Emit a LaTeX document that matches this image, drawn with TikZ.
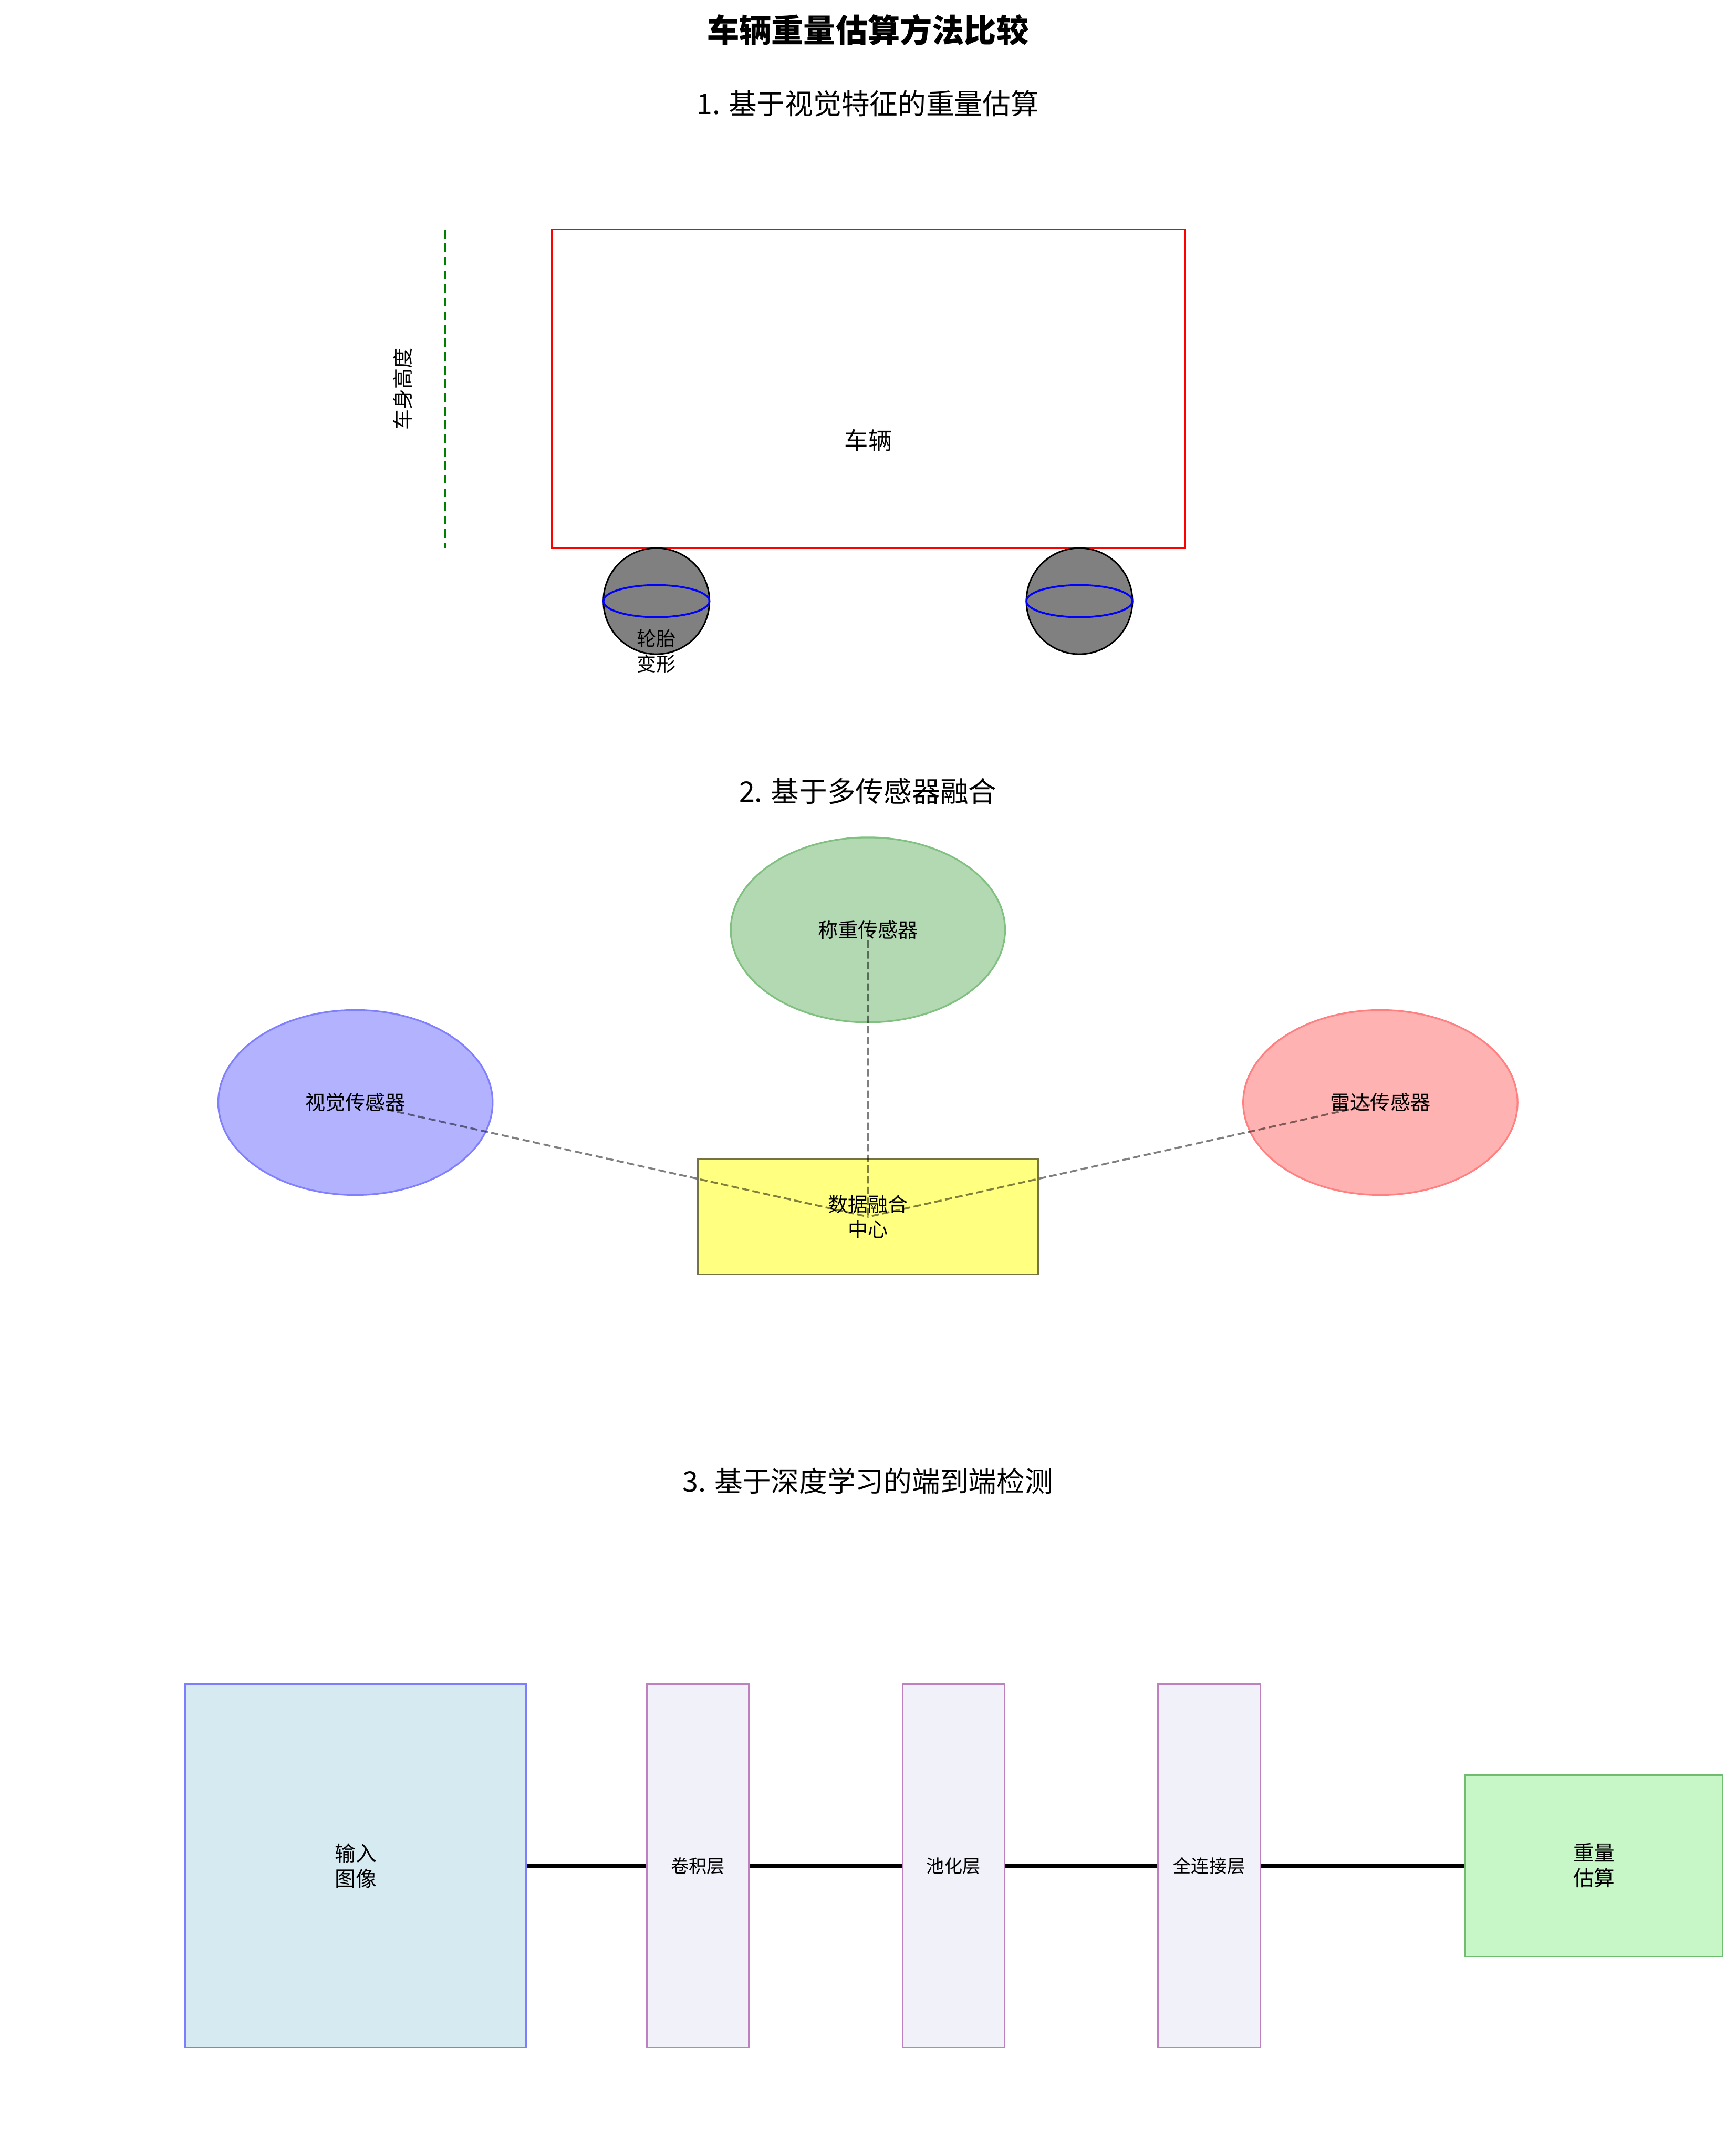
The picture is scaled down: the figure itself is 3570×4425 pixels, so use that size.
\documentclass[tikz,border=0pt]{standalone}
\usepackage{fontspec}
\setmainfont{Noto Sans CJK SC}
\usetikzlibrary{shapes.geometric}
\definecolor{fusfill}{RGB}{255,255,128}
\definecolor{fusdraw}{RGB}{115,115,70}
\definecolor{inpfill}{RGB}{213,234,241}
\definecolor{inpdraw}{RGB}{125,125,255}
\definecolor{layfill}{RGB}{241,241,250}
\definecolor{laydraw}{RGB}{191,128,191}
\definecolor{outfill}{RGB}{199,246,199}
\definecolor{outdraw}{RGB}{112,188,112}
\definecolor{wsfill}{RGB}{179,217,179}
\definecolor{wsdraw}{RGB}{128,192,128}
\definecolor{hgreen}{RGB}{0,128,0}
\newcommand\fsz[2]{\fontsize{#1}{#2}\selectfont}
\begin{document}
\begin{tikzpicture}[x=0.01cm,y=-0.01cm,
  txt/.style={inner sep=0pt, align=center},
  wheel/.style={circle, draw=black, fill=gray, line width=0.9pt, minimum size=2.18cm, inner sep=0pt},
  sensor/.style={ellipse, minimum width=5.64cm, minimum height=3.8cm, inner sep=0pt, line width=1pt},
  conn/.style={draw=black, draw opacity=0.5, line width=1.1pt, dash pattern=on 0.15cm off 0.07cm},
  layer/.style={rectangle, draw=laydraw, fill=layfill, line width=0.9pt, minimum width=2.1cm, minimum height=7.47cm, inner sep=0pt, align=center, font=\fsz{10.5pt}{13pt}},
  flow/.style={draw=black, line width=2.2pt}
]
\useasboundingbox (0,0) rectangle (3570,4425);

% titles
\node[txt, font=\fsz{18.8pt}{22pt}\bfseries] (title) at (1785,61) {车辆重量估算方法比较};
\node[txt, font=\fsz{16.5pt}{20pt}] (s1) at (1785,213) {1. 基于视觉特征的重量估算};
\node[txt, font=\fsz{16.5pt}{20pt}] (s2) at (1785,1627) {2. 基于多传感器融合};
\node[txt, font=\fsz{16.5pt}{20pt}] (s3) at (1785,3045) {3. 基于深度学习的端到端检测};

% section 1
\node[rectangle, draw=red, line width=1pt, minimum width=13.02cm, minimum height=6.55cm, inner sep=0pt] (veh) at (1786,799.5) {};
\node[txt, font=\fsz{13.9pt}{17pt}] (vehlab) at (1786,905) {车辆};
\coordinate (h1) at (915,472);
\coordinate (h2) at (915,1127);
\draw[draw=hgreen, line width=1pt, dash pattern=on 0.18cm off 0.1cm] (h1) -- (h2);
\node[txt, rotate=90, font=\fsz{12pt}{14pt}] (hlab) at (828,800) {车身高度};
\node[wheel] (w1) at (1350,1236) {};
\node[wheel] (w2) at (2220,1236) {};
\draw[blue, line width=1.1pt] (w1.center) ellipse [x radius=109, y radius=33];
\draw[blue, line width=1.1pt] (w2.center) ellipse [x radius=109, y radius=33];
\node[txt, font=\fsz{11.4pt}{14.5pt}] (tyre) at (1350,1339) {轮胎\\变形};

% section 2
\node[sensor, fill=wsfill, draw=wsdraw] (ws) at (1785,1912) {};
\node[sensor, fill=blue!30, draw=blue!50] (vs) at (731,2267) {};
\node[sensor, fill=red!30, draw=red!50] (rs) at (2839,2267) {};
\node[rectangle, fill=fusfill, draw=fusdraw, line width=1pt, minimum width=6.99cm, minimum height=2.37cm, inner sep=0pt] (fc) at (1785.5,2502) {};
\draw[conn] (ws.center) -- (fc.center);
\draw[conn] (vs.center) -- (fc.center);
\draw[conn] (rs.center) -- (fc.center);
\node[txt, font=\fsz{11.7pt}{14pt}] (wslab) at (ws.center) {称重传感器};
\node[txt, font=\fsz{11.7pt}{14pt}] (vslab) at (vs.center) {视觉传感器};
\node[txt, font=\fsz{11.7pt}{14pt}] (rslab) at (rs.center) {雷达传感器};
\node[txt, font=\fsz{11.7pt}{14.8pt}] (fclab) at (fc.center) {数据融合\\中心};

% section 3
\node[rectangle, draw=inpdraw, fill=inpfill, line width=0.9pt, minimum width=7.01cm, minimum height=7.47cm, inner sep=0pt, align=center, font=\fsz{12.2pt}{14.8pt}] (inp) at (731.5,3836.5) {输入\\图像};
\node[layer] (conv) at (1435,3836.5) {卷积层};
\node[layer] (pool) at (1961,3836.5) {池化层};
\node[layer] (fcl) at (2487,3836.5) {全连接层};
\node[rectangle, draw=outdraw, fill=outfill, line width=0.9pt, minimum width=5.29cm, minimum height=3.72cm, inner sep=0pt, align=center, font=\fsz{12.2pt}{14.8pt}] (out) at (3278.5,3836) {重量\\估算};
\draw[flow] (inp.east) -- (conv.west);
\draw[flow] (conv.east) -- (pool.west);
\draw[flow] (pool.east) -- (fcl.west);
\draw[flow] (fcl.east) -- (out.west |- fcl.east);
\end{tikzpicture}
\end{document}
